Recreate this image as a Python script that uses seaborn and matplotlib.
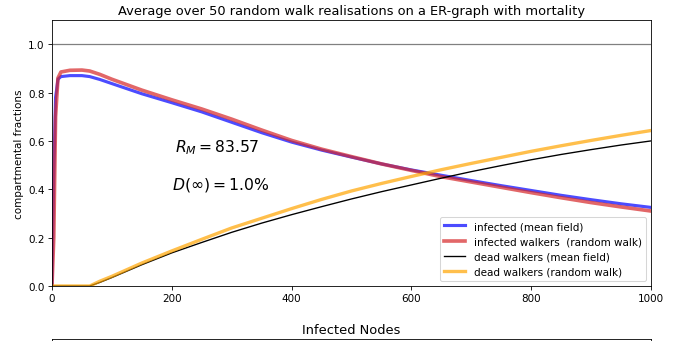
import numpy as np
import pandas as pd
import matplotlib
matplotlib.use("Agg")
import matplotlib.pyplot as plt
import seaborn as sns

# time steps
t = [0, 3, 6, 10, 15, 30, 50, 63, 80, 100, 150, 200, 250, 300, 350, 400, 450,
     500, 550, 600, 650, 700, 750, 800, 850, 900, 950, 1000]

infected_mf = [0.0, 0.45, 0.78, 0.855, 0.866, 0.870, 0.870, 0.866, 0.854, 0.837,
               0.795, 0.758, 0.720, 0.677, 0.634, 0.595, 0.562, 0.533, 0.505,
               0.480, 0.458, 0.436, 0.415, 0.395, 0.375, 0.357, 0.340, 0.325]
infected_rw = [0.0, 0.20, 0.70, 0.860, 0.885, 0.892, 0.893, 0.889, 0.875, 0.855,
               0.810, 0.770, 0.732, 0.690, 0.645, 0.602, 0.566, 0.535, 0.505,
               0.478, 0.452, 0.430, 0.408, 0.386, 0.365, 0.345, 0.327, 0.310]
dead_mf = [0.0, 0.0, 0.0, 0.0, 0.0, 0.0, 0.0, 0.0, 0.015, 0.035, 0.088, 0.137,
           0.180, 0.222, 0.260, 0.295, 0.328, 0.360, 0.390, 0.418, 0.446, 0.473,
           0.498, 0.522, 0.544, 0.564, 0.583, 0.600]
dead_rw = [0.0, 0.0, 0.0, 0.0, 0.0, 0.0, 0.0, 0.0, 0.020, 0.040, 0.095, 0.145,
           0.193, 0.240, 0.280, 0.320, 0.358, 0.393, 0.424, 0.453, 0.481, 0.507,
           0.532, 0.557, 0.580, 0.602, 0.623, 0.643]

R_M = 83.57
D_inf = 1.0

fig = plt.figure(figsize=(692 / 75, 342 / 75), dpi=75)
ax = fig.add_axes([0.0751, 0.1608, 0.8657, 0.7778])

ax.axhline(1.0, color="grey", lw=1.2)
sns.lineplot(x=t, y=infected_mf, ax=ax, color="blue", alpha=0.7, lw=3,
             label="infected (mean field)")
sns.lineplot(x=t, y=infected_rw, ax=ax, color="tab:red", alpha=0.7, lw=3.5,
             label="infected walkers  (random walk)")
sns.lineplot(x=t, y=dead_mf, ax=ax, color="black", lw=1.3,
             label="dead walkers (mean field)")
sns.lineplot(x=t, y=dead_rw, ax=ax, color="orange", alpha=0.7, lw=3.2,
             label="dead walkers (random walk)")

ax.text(205, 0.577, r"$R_M = %.2f$" % R_M, fontsize=15, ha="left", va="center")
ax.text(200, 0.423, r"$D(\infty) = %.1f$%%" % D_inf, fontsize=15, ha="left", va="center")

ax.set_xlim(0, 1000)
ax.set_ylim(0, 1.1)
ax.set_xticks([0, 200, 400, 600, 800, 1000])
ax.set_yticks([0.0, 0.2, 0.4, 0.6, 0.8, 1.0])
ax.set_ylabel("compartmental fractions")
ax.set_title("Average over 50 random walk realisations on a ER-graph with mortality",
             fontsize=12.5)
ax.legend(loc="lower right")

# second panel (continues below)
ax2 = fig.add_axes([0.0751, -0.6, 0.8657, 0.6058])
ax2.set_title("Infected Nodes", fontsize=12.5)
ax2.set_xticks([])
ax2.set_yticks([])

fig.savefig("out.png", dpi=75)
